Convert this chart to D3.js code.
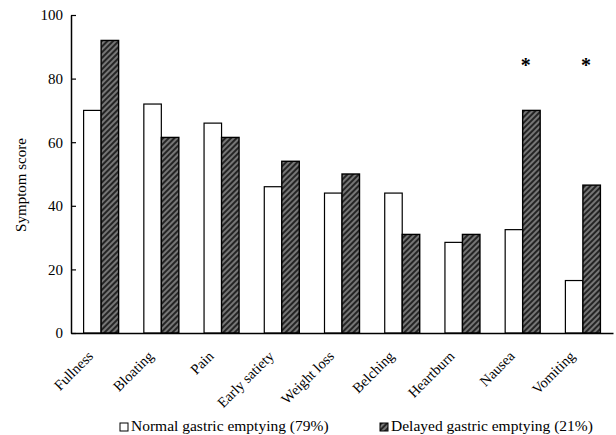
<!DOCTYPE html>
<html>
<head>
<meta charset="utf-8">
<script src="https://cdn.jsdelivr.net/npm/d3@7"></script>
<style>
  html, body { margin: 0; padding: 0; background: #fff; }
  svg { display: block; font-family: "Liberation Serif", "Times New Roman", serif; }
</style>
</head>
<body>
<svg id="chart" width="616" height="435"></svg>
<script>
// Symptom scores by gastric emptying group
const categories = ["Fullness", "Bloating", "Pain", "Early satiety", "Weight loss",
                    "Belching", "Heartburn", "Nausea", "Vomiting"];
const normalScores  = [70, 72, 66, 46, 44, 44, 28.5, 32.5, 16.5];
const delayedScores = [92, 61.5, 61.5, 54, 50, 31, 31, 70, 46.5];
const significant   = ["Nausea", "Vomiting"];
const yTicks = [0, 20, 40, 60, 80, 100];
const seriesNames = ["Normal gastric emptying (79%)", "Delayed gastric emptying (21%)"];
const yTitle = "Symptom score";

const svg = d3.select("#chart");

// hatched fill for the delayed group
const defs = svg.append("defs");
const pat = defs.append("pattern")
  .attr("id", "hatch")
  .attr("patternUnits", "userSpaceOnUse")
  .attr("width", 4).attr("height", 4)
  .attr("patternTransform", "rotate(-45)");
pat.append("rect").attr("width", 4).attr("height", 4).attr("fill", "#767676");
pat.append("line").attr("x1", 0).attr("y1", 1).attr("x2", 4).attr("y2", 1)
  .attr("stroke", "#151515").attr("stroke-width", 1.7);

const x = d3.scaleBand().domain(categories).range([71, 613]).padding(0);
const y = d3.scaleLinear().domain([0, 100]).range([333, 15]);
const barW = 17.5;
const center = c => x(c) + x.bandwidth() / 2;

// bars
const groups = svg.append("g").selectAll("g")
  .data(categories.map((c, i) => ({ c, n: normalScores[i], d: delayedScores[i] })))
  .join("g");

groups.append("rect")
  .attr("x", d => center(d.c) - barW)
  .attr("y", d => y(d.n))
  .attr("width", barW)
  .attr("height", d => y(0) - y(d.n))
  .attr("fill", "#fff")
  .attr("stroke", "#000")
  .attr("stroke-width", 1.2);

groups.append("rect")
  .attr("x", d => center(d.c))
  .attr("y", d => y(d.d))
  .attr("width", barW)
  .attr("height", d => y(0) - y(d.d))
  .attr("fill", "url(#hatch)")
  .attr("stroke", "#000")
  .attr("stroke-width", 1.4);

// significance markers
svg.append("g").selectAll("text")
  .data(significant)
  .join("text")
  .attr("x", d => center(d) + 3)
  .attr("y", 72)
  .attr("text-anchor", "middle")
  .attr("font-size", 20)
  .attr("font-weight", "bold")
  .text("*");

// y axis, ticks pointing inward
const yAxis = svg.append("g")
  .attr("transform", "translate(71,0)")
  .call(d3.axisLeft(y).tickValues(yTicks).tickSizeInner(-5).tickSizeOuter(0).tickPadding(8));
yAxis.select(".domain").attr("stroke-width", 1.5);
yAxis.selectAll(".tick line").attr("stroke-width", 1.2);
yAxis.selectAll("text")
  .attr("font-size", 15)
  .attr("font-family", "Liberation Serif, serif")
  .attr("fill", "#000");

// x axis baseline and rotated category labels
const xAxis = svg.append("g")
  .attr("transform", "translate(0,333)")
  .call(d3.axisBottom(x).tickSize(0).tickSizeOuter(0));
xAxis.select(".domain").attr("stroke-width", 1.5);
xAxis.selectAll("text")
  .attr("font-size", 14.5)
  .attr("font-family", "Liberation Serif, serif")
  .attr("fill", "#000")
  .attr("text-anchor", "end")
  .attr("dy", null)
  .attr("y", 0)
  .attr("transform", "translate(-7,24) rotate(-45)");

// y axis title
svg.append("text")
  .attr("transform", "translate(21,185) rotate(-90)")
  .attr("text-anchor", "middle")
  .attr("dominant-baseline", "central")
  .attr("font-size", 15)
  .text(yTitle);

// legend
const legend = svg.append("g").attr("font-size", 15.5);
const legendX = [120, 380];
seriesNames.forEach((name, i) => {
  legend.append("rect")
    .attr("x", legendX[i]).attr("y", 423)
    .attr("width", 8).attr("height", 8)
    .attr("fill", i === 0 ? "#fff" : "url(#hatch)")
    .attr("stroke", "#000").attr("stroke-width", 1);
  legend.append("text")
    .attr("x", legendX[i] + 11).attr("y", 431)
    .text(name);
});
</script>
</body>
</html>
